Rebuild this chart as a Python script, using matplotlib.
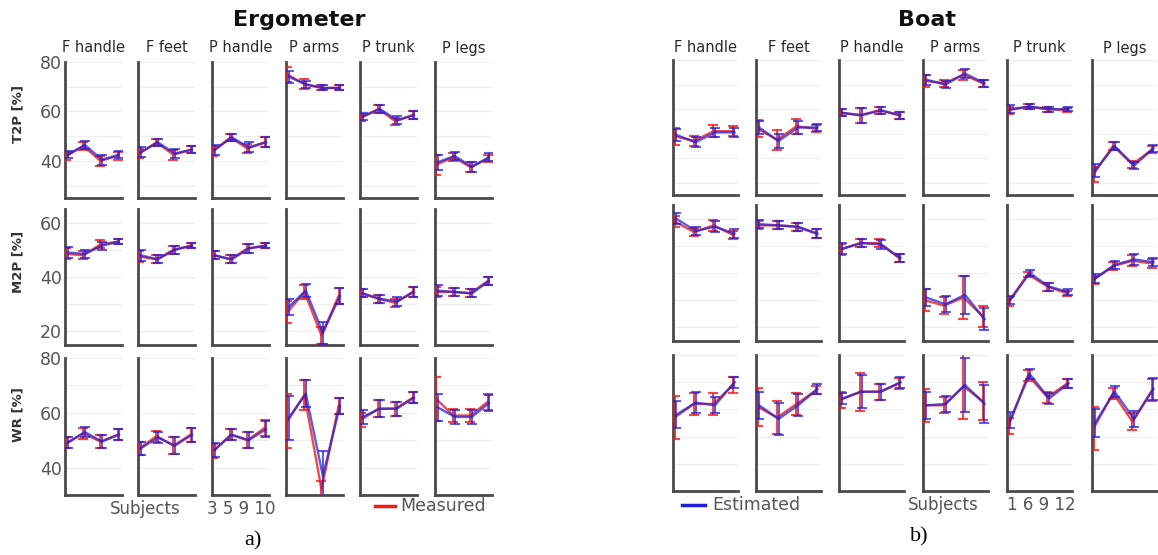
import matplotlib
matplotlib.use("Agg")
import matplotlib.pyplot as plt
from matplotlib.lines import Line2D
from matplotlib.ticker import MultipleLocator
import numpy as np

W, H = 1158, 555

columns = ["F handle", "F feet", "P handle", "P arms", "P trunk", "P legs"]
metrics = ["T2P [%]", "M2P [%]", "WR [%]"]
subjects = [1, 2, 3, 4]
ylims = [(25, 80), (15, 65), (30, 80)]

# ---------------- Ergometer ----------------
erg_t2p_meas = [[42, 46, 40, 42], [43, 47.5, 42.5, 44.5], [44, 49.5, 45, 47.5],
                [75, 71, 69.5, 69.5], [57.5, 61, 56, 58.5], [38.5, 41.5, 37.5, 41]]
erg_t2p_meas_err = [[1.5, 1.5, 2, 1.5], [2, 1.5, 2, 1.5], [2, 1.5, 2, 2],
                    [3, 2, 1, 1], [1.5, 1.5, 1.5, 1.5], [4, 1.5, 2, 1.5]]
erg_t2p_est = [[42.5, 46.5, 40.5, 42.5], [43.5, 47.5, 43, 44.5], [44.5, 49.5, 45.5, 47.5],
               [74, 71, 69.5, 69.5], [58, 61, 56.5, 58.5], [39.5, 42, 37.5, 41.5]]
erg_t2p_est_err = [[1.5, 1.5, 2, 1.5], [2, 1.5, 2, 1.5], [2, 1.5, 2, 2],
                   [2.5, 1.5, 1, 1], [1.5, 1.5, 1.5, 1.5], [3, 1.5, 2, 1.5]]

erg_m2p_meas = [[48.5, 48, 52, 53], [47.5, 46.5, 50, 51.5], [48, 46.5, 50.5, 51.5],
                [27, 34.5, 18.5, 33], [34, 32, 30.5, 34.5], [34.5, 34.5, 34, 38.5]]
erg_m2p_meas_err = [[2, 1.5, 1.5, 1], [2, 1.5, 1.5, 1], [1.5, 1.5, 1.5, 1],
                    [4, 2.5, 3, 3], [1.5, 1.5, 1.5, 2], [2, 1.5, 1.5, 1.5]]
erg_m2p_est = [[49, 48.5, 51.5, 53], [48, 46.5, 50, 51.5], [48, 46.5, 50.5, 51.5],
               [29, 35, 19.5, 33], [34, 32, 31, 34.5], [35, 34.5, 34, 38.5]]
erg_m2p_est_err = [[2, 1.5, 1.5, 1], [2, 1.5, 1.5, 1], [1.5, 1.5, 1.5, 1],
                   [3, 2.5, 4, 3], [1.5, 1.5, 1.5, 2], [2, 1.5, 1.5, 1.5]]

erg_wr_meas = [[49, 52.5, 49.5, 52], [47, 51.5, 48, 52], [46, 52, 50, 54.5],
               [57, 66.5, 32, 62.5], [57.5, 61.5, 61.5, 65.5], [65, 59, 59, 64]]
erg_wr_meas_err = [[2, 2, 2.5, 2], [2.5, 2, 3, 2.5], [2.5, 2, 3, 3],
                   [10, 5.5, 3, 3], [2.5, 3, 2.5, 2], [8, 2.5, 2.5, 3]]
erg_wr_est = [[49, 53, 49.5, 52], [47, 51, 48, 52], [46.5, 52, 50, 54],
              [58, 67, 37, 62.5], [58.5, 61.5, 61.5, 65.5], [62, 58.5, 58.5, 63.5]]
erg_wr_est_err = [[2, 2, 2.5, 2], [2.5, 2, 3, 2.5], [2.5, 2, 3, 3],
                  [8, 5, 9, 3], [2.5, 3, 2.5, 2], [5, 2.5, 2.5, 3]]

# ---------------- Boat ----------------
boat_t2p_meas = [[49, 47, 51, 51], [52, 47.5, 53, 52], [58.5, 57.5, 59.5, 57.5],
                 [71.5, 70.5, 74, 70.5], [59.5, 61, 60, 59.5], [33.5, 45, 37.5, 43.5]]
boat_t2p_meas_err = [[3.5, 2, 2.5, 2], [3.5, 4, 3, 1.5], [1.5, 3, 1.5, 1.5],
                     [2.5, 1.5, 2, 1.5], [1.5, 1, 1, 0.8], [3, 1.5, 1.5, 1.5]]
boat_t2p_est = [[49.5, 46.5, 50.5, 50.5], [52.5, 47, 52.5, 52.5], [58.5, 57.5, 59.5, 57.5],
                [72, 70, 74.5, 70.5], [60, 61, 60, 60], [35, 45, 37, 44]]
boat_t2p_est_err = [[2.5, 2, 2, 2], [2.5, 3, 2.5, 1.5], [1.5, 3, 1.5, 1.5],
                    [2, 1.5, 2, 1.5], [1.5, 1, 1, 0.8], [2.5, 1.5, 1.5, 1.5]]

boat_m2p_meas = [[59, 55, 57.5, 54], [57.5, 57.5, 57, 54.5], [48.5, 51, 51, 45.5],
                 [30, 28, 31, 24], [29.5, 39.5, 35, 32.5], [37.5, 42.5, 44.5, 43.5]]
boat_m2p_meas_err = [[2, 1.5, 2, 1.5], [1.5, 1.5, 1.5, 1.5], [2, 1.5, 1.5, 1.5],
                     [4, 3, 8, 4], [1.5, 1, 1.5, 1], [1.5, 1.5, 2, 1.5]]
boat_m2p_est = [[60, 55.5, 57, 54.5], [58, 57.5, 57, 54.5], [49, 51, 50.5, 45.5],
                [31, 28.5, 32, 23], [30, 40, 35, 33], [38, 43, 45, 44]]
boat_m2p_est_err = [[2, 1.5, 2, 1.5], [1.5, 1.5, 1.5, 1.5], [2, 1.5, 1.5, 1.5],
                    [3, 3, 7, 4], [1.5, 1, 1.5, 1], [1.5, 1.5, 2, 1.5]]

boat_wr_meas = [[57, 62, 62, 69], [61, 57, 62, 67], [63.5, 66.5, 66.5, 69.5],
                [61.5, 61.5, 68.5, 63], [54, 72.5, 64.5, 69.5], [53, 66, 55.5, 67]]
boat_wr_meas_err = [[8, 4, 4, 3], [7, 6, 4, 1.5], [3, 7, 3, 2],
                    [6, 3, 12, 7], [3, 2, 2, 1.5], [8, 2, 3, 4]]
boat_wr_est = [[58, 62.5, 61.5, 70], [61.5, 56.5, 61.5, 67.5], [64, 66.5, 66.5, 70],
               [61.5, 62, 69, 62], [56, 73, 64, 69.5], [55, 66.5, 56.5, 67.5]]
boat_wr_est_err = [[5, 4, 3, 2], [5, 6, 4, 2], [2, 6, 3, 2],
                   [5, 3, 10, 7], [3, 2, 2, 1.5], [5, 2, 3, 4]]

erg_data = [(erg_t2p_meas, erg_t2p_meas_err, erg_t2p_est, erg_t2p_est_err),
            (erg_m2p_meas, erg_m2p_meas_err, erg_m2p_est, erg_m2p_est_err),
            (erg_wr_meas, erg_wr_meas_err, erg_wr_est, erg_wr_est_err)]
boat_data = [(boat_t2p_meas, boat_t2p_meas_err, boat_t2p_est, boat_t2p_est_err),
             (boat_m2p_meas, boat_m2p_meas_err, boat_m2p_est, boat_m2p_est_err),
             (boat_wr_meas, boat_wr_meas_err, boat_wr_est, boat_wr_est_err)]

RED = "#f01c1c"
BLUE = "#2020d8"
SPINE = "#4a4a4a"
GRID = "#efefef"

fig = plt.figure(figsize=(W / 100, H / 100), dpi=100)
fig.patch.set_facecolor("white")


def px_axes(x0, y0, x1, y1):
    return fig.add_axes([x0 / W, 1 - y1 / H, (x1 - x0) / W, (y1 - y0) / H])


def fx(px):
    return px / W


def fy(py):
    return 1 - py / H


def draw_panel(data, col_lefts, col_w, rows, show_yticks):
    x = np.array(subjects, dtype=float)
    for r, (y0, y1) in enumerate(rows):
        meas, meas_err, est, est_err = data[r]
        for c, left in enumerate(col_lefts):
            ax = px_axes(left, y0, left + col_w, y1)
            ax.set_xlim(0.88, 4.22)
            ax.set_ylim(*ylims[r])
            ax.yaxis.set_major_locator(MultipleLocator(20))
            ax.yaxis.set_minor_locator(MultipleLocator(10))
            ax.grid(True, which="both", axis="y", color=GRID, lw=0.9, zorder=0)
            ax.set_axisbelow(True)
            for s in ["top", "right"]:
                ax.spines[s].set_visible(False)
            for s in ["left", "bottom"]:
                ax.spines[s].set_color(SPINE)
                ax.spines[s].set_linewidth(2.0)
            ax.set_xticks([])
            ax.tick_params(axis="y", which="both", length=0, pad=2,
                           labelsize=12.5, labelcolor="#555555")
            if not (show_yticks and c == 0):
                ax.tick_params(axis="y", labelleft=False)
            ax.errorbar(x - 0.04, meas[c], yerr=meas_err[c], color=RED,
                        lw=1.7, elinewidth=1.5, capsize=3.5, capthick=1.5,
                        alpha=0.8, zorder=3)
            ax.errorbar(x + 0.04, est[c], yerr=est_err[c], color=BLUE,
                        lw=1.7, elinewidth=1.5, capsize=3.5, capthick=1.5,
                        alpha=0.72, zorder=4)
            if r == 0:
                fig.text(fx(left + col_w / 2), fy(48), columns[c], ha="center",
                         va="center", fontsize=10.5, color="#2a2a2a")


erg_lefts = [65, 138, 212, 286, 360, 435]
erg_rows = [(62, 198), (209, 345), (358, 495)]
draw_panel(erg_data, erg_lefts, 57, erg_rows, True)

boat_lefts = [673, 756, 839, 923, 1007, 1092]
boat_rows = [(60, 195), (205, 341), (355, 491)]
draw_panel(boat_data, boat_lefts, 65, boat_rows, False)

# Titles
fig.text(fx(299), fy(20), "Ergometer", ha="center", va="center",
         fontsize=16, fontweight="bold", color="#111111")
fig.text(fx(927), fy(20), "Boat", ha="center", va="center",
         fontsize=16, fontweight="bold", color="#111111")

# Row labels (left panel)
for label, yc in zip(metrics, [114, 262, 415]):
    fig.text(fx(18), fy(yc), label, rotation=90, ha="center", va="center",
             fontsize=9.5, fontweight="bold", color="#333333")

# Bottom annotations
fig.text(fx(145), fy(509), "Subjects", ha="center", va="center",
         fontsize=12, color="#555555")
fig.text(fx(241), fy(509), "3 5 9 10", ha="center", va="center",
         fontsize=12, color="#555555")
fig.text(fx(943), fy(505), "Subjects", ha="center", va="center",
         fontsize=12, color="#555555")
fig.text(fx(1041), fy(505), "1 6 9 12", ha="center", va="center",
         fontsize=12, color="#555555")

fig.add_artist(Line2D([fx(375), fx(395)], [fy(506), fy(506)], color=RED, lw=2.5))
fig.text(fx(400), fy(506), "Measured", ha="left", va="center",
         fontsize=12.5, color="#555555")
fig.add_artist(Line2D([fx(682), fx(705)], [fy(505), fy(505)], color=BLUE, lw=2.5))
fig.text(fx(712), fy(505), "Estimated", ha="left", va="center",
         fontsize=12.5, color="#555555")

fig.text(fx(253), fy(541), "a)", ha="center", va="center",
         fontsize=16, family="Liberation Serif", color="black")
fig.text(fx(919), fy(537), "b)", ha="center", va="center",
         fontsize=16, family="Liberation Serif", color="black")

fig.savefig("out.png", dpi=100, facecolor="white")
